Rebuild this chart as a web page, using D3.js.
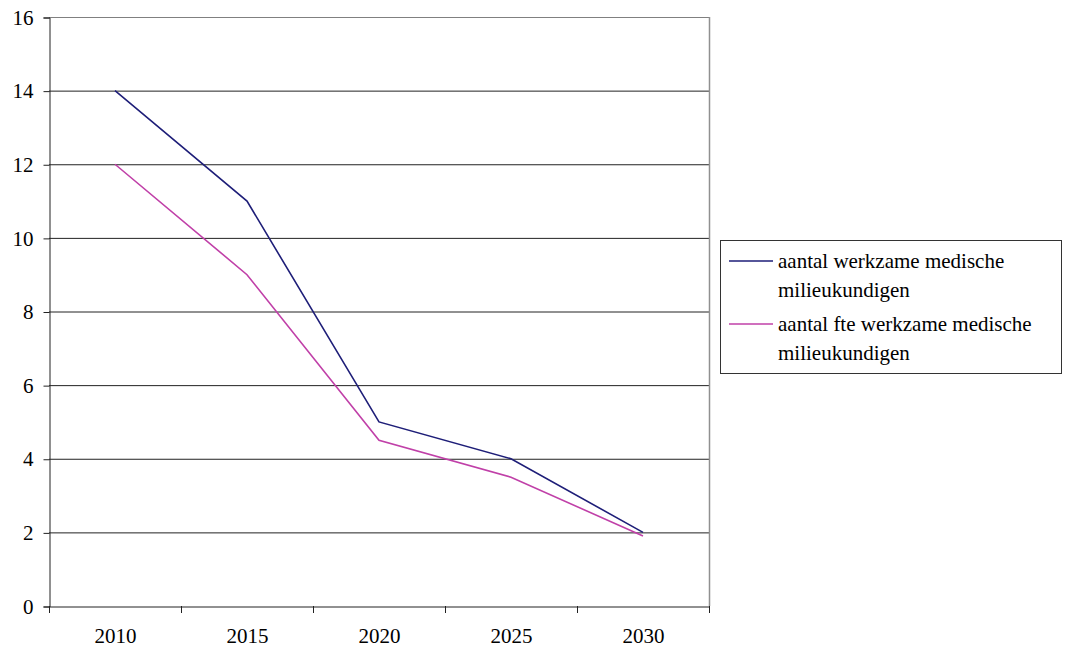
<!DOCTYPE html>
<html><head><meta charset="utf-8">
<script src="https://cdn.jsdelivr.net/npm/d3@7"></script>
</head><body style="margin:0">
<svg id="c" width="1065" height="653" style="display:block"></svg>
<script>
const categories = ["2010","2015","2020","2025","2030"];
const seriesNames = ["aantal werkzame medische milieukundigen","aantal fte werkzame medische milieukundigen"];
const seriesA = [14, 11, 5, 4, 2];
const seriesB = [12, 9, 4.5, 3.5, 1.9];
const yTicks = [0,2,4,6,8,10,12,14,16];
const colors = ["#1e1e78","#c040a8"];
const FONT = "Times New Roman";

const svg = d3.select("#c");
const m = {l:49, r:709, t:17, b:606};
const x = d3.scaleBand().domain(categories).range([m.l, m.r]);
const y = d3.scaleLinear().domain([0,16]).range([m.b, m.t]);

// gridlines
svg.append("g").selectAll("line").data(yTicks.filter(d=>d>0)).join("line")
  .attr("x1", m.l).attr("x2", m.r)
  .attr("y1", d=>y(d)+0.5).attr("y2", d=>y(d)+0.5)
  .attr("stroke", d=> d===16 ? "#808080" : "#222").attr("stroke-width",1);
// right border
svg.append("line").attr("x1", m.r+0.5).attr("x2", m.r+0.5).attr("y1", m.t).attr("y2", m.b)
  .attr("stroke","#909090").attr("stroke-width",1.5);

// y axis
const yAxis = svg.append("g").attr("transform",`translate(${m.l+0.5},0.5)`)
  .call(d3.axisLeft(y).tickValues(yTicks).tickSize(6).tickPadding(10).tickFormat(d3.format("d")));
yAxis.attr("font-family", FONT).attr("font-size", 21);
yAxis.select(".domain").attr("stroke","#222");
yAxis.selectAll(".tick line").attr("stroke","#222");
yAxis.selectAll("text").attr("font-family",FONT).attr("font-size",21).attr("fill","#000");

// x axis
const xAxis = svg.append("g").attr("transform",`translate(0.5,${m.b+0.5})`)
  .call(d3.axisBottom(x).tickSize(0).tickPadding(22));
xAxis.attr("font-family", FONT).attr("font-size", 21);
xAxis.select(".domain").attr("stroke","#222");
xAxis.selectAll("text").attr("font-family",FONT).attr("font-size",21).attr("fill","#000");
// category boundary ticks
const bounds = categories.map(c=>x(c)).concat([m.r]);
svg.append("g").selectAll("line").data(bounds).join("line")
  .attr("x1", d=>d+0.5).attr("x2", d=>d+0.5).attr("y1", m.b).attr("y2", m.b+7)
  .attr("stroke","#222");

// lines
const line = d3.line().x((d,i)=>x(categories[i])+x.bandwidth()/2).y(d=>y(d));
[seriesA, seriesB].forEach((s,i)=>{
  svg.append("path").datum(s).attr("d", line).attr("fill","none")
    .attr("stroke", colors[i]).attr("stroke-width",1.6);
});

// legend
const lg = svg.append("g").attr("font-family", FONT).attr("font-size", 21);
lg.append("rect").attr("x",720.5).attr("y",240.5).attr("width",341).attr("height",133)
  .attr("fill","#fff").attr("stroke","#333").attr("stroke-width",1);
const legendLines = [["aantal werkzame medische","milieukundigen"],["aantal fte werkzame medische","milieukundigen"]];
legendLines.forEach((ls,i)=>{
  const y0 = 261 + i*63;
  lg.append("line").attr("x1",729).attr("x2",773).attr("y1",y0).attr("y2",y0)
    .attr("stroke",colors[i]).attr("stroke-width",1.6);
  ls.forEach((t,j)=>{
    lg.append("text").attr("x",778).attr("y",y0 + 7 + j*29).text(t)
      .attr("font-family",FONT).attr("font-size",21).attr("fill","#000");
  });
});
</script>
</body></html>
